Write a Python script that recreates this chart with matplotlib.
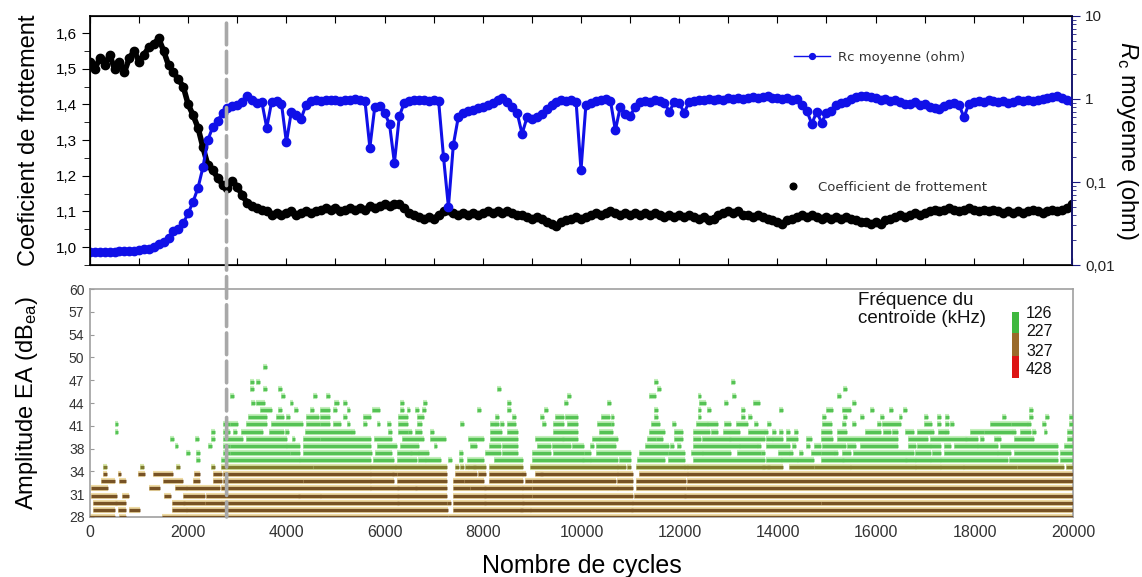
import matplotlib
matplotlib.use("Agg")
import matplotlib.pyplot as plt
import numpy as np

from matplotlib import ticker
from matplotlib.colors import ListedColormap
from matplotlib.patches import ConnectionPatch

plt.rcParams['font.family'] = ['Liberation Sans', 'DejaVu Sans']
plt.rcParams['mathtext.fontset'] = 'custom'
plt.rcParams['mathtext.rm'] = 'Liberation Sans'
plt.rcParams['mathtext.it'] = 'Liberation Sans:italic'

# --- donnees ---
cycles = np.arange(0, 20001, 100)

frottement = [
    1.52, 1.50, 1.53, 1.51, 1.54, 1.50, 1.52, 1.49, 1.53, 1.55,
    1.52, 1.54, 1.56, 1.57, 1.585, 1.55, 1.51, 1.49, 1.47, 1.45,
    1.40, 1.37, 1.335, 1.28, 1.23, 1.215, 1.195, 1.175, 1.165, 1.185,
    1.17, 1.145, 1.125, 1.115, 1.11, 1.105, 1.10, 1.09, 1.095, 1.09,
    1.095, 1.10, 1.09, 1.095, 1.10, 1.095, 1.10, 1.105, 1.11, 1.105,
    1.11, 1.10, 1.105, 1.11, 1.105, 1.11, 1.105, 1.115, 1.11, 1.115,
    1.12, 1.115, 1.12, 1.12, 1.11, 1.095, 1.09, 1.085, 1.08, 1.085,
    1.08, 1.09, 1.10, 1.105, 1.095, 1.09, 1.095, 1.09, 1.095, 1.09,
    1.095, 1.10, 1.095, 1.10, 1.095, 1.10, 1.095, 1.09, 1.09, 1.085,
    1.08, 1.085, 1.08, 1.07, 1.065, 1.06, 1.07, 1.075, 1.08, 1.085,
    1.08, 1.085, 1.09, 1.095, 1.09, 1.095, 1.10, 1.095, 1.09, 1.095,
    1.09, 1.095, 1.09, 1.095, 1.09, 1.095, 1.09, 1.085, 1.09, 1.085,
    1.09, 1.085, 1.09, 1.085, 1.08, 1.085, 1.075, 1.08, 1.09, 1.095,
    1.10, 1.095, 1.10, 1.09, 1.09, 1.085, 1.09, 1.085, 1.08, 1.075,
    1.07, 1.065, 1.075, 1.08, 1.085, 1.09, 1.085, 1.09, 1.085, 1.08,
    1.085, 1.08, 1.085, 1.08, 1.085, 1.08, 1.075, 1.07, 1.07, 1.065,
    1.07, 1.065, 1.075, 1.08, 1.085, 1.09, 1.085, 1.09, 1.095, 1.09,
    1.095, 1.10, 1.105, 1.10, 1.105, 1.11, 1.105, 1.10, 1.105, 1.11,
    1.105, 1.10, 1.105, 1.10, 1.105, 1.10, 1.095, 1.10, 1.095, 1.10,
    1.095, 1.10, 1.105, 1.10, 1.095, 1.10, 1.105, 1.10, 1.105, 1.11,
    1.12,
]

rc_moyenne = [
    0.0142, 0.0143, 0.0144, 0.0144, 0.0145, 0.0145, 0.0146, 0.0147, 0.0148, 0.0149,
    0.0151, 0.0154, 0.0158, 0.0166, 0.0178, 0.019, 0.021, 0.026, 0.027, 0.032,
    0.042, 0.058, 0.085, 0.15, 0.32, 0.46, 0.55, 0.68, 0.78, 0.82,
    0.84, 0.92, 1.08, 0.98, 0.90, 0.92, 0.45, 0.93, 0.95, 0.88,
    0.30, 0.70, 0.64, 0.58, 0.85, 0.95, 0.97, 0.95, 0.98, 0.96,
    0.97, 0.95, 0.98, 0.96, 1.0, 0.97, 0.95, 0.26, 0.80, 0.82,
    0.68, 0.50, 0.17, 0.62, 0.90, 0.95, 0.97, 0.96, 0.98, 0.95,
    0.97, 0.95, 0.20, 0.05, 0.28, 0.60, 0.68, 0.72, 0.74, 0.78,
    0.80, 0.85, 0.90, 0.97, 1.02, 0.92, 0.80, 0.68, 0.38, 0.60,
    0.58, 0.60, 0.66, 0.76, 0.85, 0.93, 0.96, 0.95, 0.97, 0.93,
    0.14, 0.85, 0.90, 0.95, 0.98, 1.0, 0.95, 0.42, 0.80, 0.66,
    0.62, 0.80, 0.92, 0.95, 0.93, 0.96, 0.95, 0.90, 0.70, 0.92,
    0.90, 0.68, 0.92, 0.95, 0.97, 0.98, 1.0, 0.97, 1.0, 0.98,
    1.02, 1.0, 1.03, 0.99, 1.02, 1.05, 1.02, 1.06, 1.10, 1.04,
    1.02, 1.0, 1.02, 0.98, 1.0, 0.85, 0.72, 0.50, 0.70, 0.52,
    0.68, 0.72, 0.85, 0.90, 0.93, 1.0, 1.05, 1.08, 1.10, 1.05,
    1.02, 0.98, 1.0, 0.95, 0.97, 0.92, 0.88, 0.87, 0.92, 0.85,
    0.88, 0.80, 0.78, 0.76, 0.82, 0.88, 0.90, 0.85, 0.60, 0.88,
    0.92, 0.95, 0.93, 0.97, 0.95, 0.92, 0.95, 0.90, 0.93, 0.96,
    0.94, 0.98, 0.95, 0.97, 1.0, 1.02, 1.05, 1.10, 1.02, 0.98,
    0.95,
]

# amplitude EA : niveaux (dB) et plages de cycles occupees a chaque niveau
niveaux_ea = list(range(28, 50))
segments_ea = [
    # 28
    [(30, 470), (640, 700), (1500, 7250), (7330, 20000)],
    # 29
    [(100, 470), (600, 700), (830, 980), (1700, 1930), (2000, 7250), (7430, 8760),
     (8790, 8930), (8990, 11000), (11040, 20000)],
    # 30
    [(100, 500), (550, 700), (1700, 1900), (1930, 2300), (2370, 2640), (2700, 6240),
     (6280, 7230), (7300, 7300), (7430, 8010), (8050, 8790), (8830, 11000),
     (11070, 14840), (14910, 20000)],
    # 31
    [(60, 500), (700, 750), (1550, 1600), (1930, 2300), (2400, 4240), (4270, 4650),
     (4710, 6240), (6280, 7230), (7430, 8010), (8050, 8760), (8830, 8960),
     (9030, 11000), (11110, 12090), (12130, 20000)],
    # 32
    [(60, 330), (1250, 1380), (1760, 1930), (2000, 2600), (2700, 5670), (5740, 6240),
     (6280, 6620), (6650, 7230), (7430, 7700), (7770, 8010), (8050, 8760),
     (8830, 8960), (9030, 10700), (10770, 11000), (11140, 12090), (12160, 20000)],
    # 33
    [(260, 470), (640, 700), (1520, 1860), (2130, 2200), (2550, 2640), (2750, 4300),
     (4380, 5670), (5740, 6140), (6280, 7230), (7430, 7570), (7640, 7980),
     (8150, 8760), (8900, 8960), (9030, 10670), (10770, 11000), (11140, 12090),
     (12190, 20000)],
    # 34
    [(300, 300), (600, 600), (1020, 1080), (1320, 1650), (2150, 2200), (2540, 2640),
     (2750, 5670), (5740, 6140), (6180, 6210), (6280, 7230), (7470, 7840),
     (7940, 8010), (8150, 8760), (8830, 8830), (9100, 9170), (9200, 10700),
     (10770, 11000), (11210, 12130), (12190, 20000)],
    # 35
    [(300, 300), (1050, 1050), (1800, 1800), (2500, 2500), (2700, 4500), (4580, 5670),
     (5740, 6180), (6250, 7230), (7470, 7470), (7570, 7570), (7670, 7670),
     (7740, 7810), (7840, 8010), (8150, 8760), (9000, 10700), (10770, 10870),
     (10970, 10970), (11140, 12060), (12130, 12130), (12190, 13690), (13720, 13790),
     (13820, 14060), (14260, 14700), (14770, 15440), (15500, 16760), (16830, 17270),
     (17340, 17750), (17810, 18830), (18900, 19780), (19890, 20000)],
    # 36
    [(2200, 2200), (2700, 4240), (4300, 5670), (5800, 6140), (6280, 6620), (6720, 6790),
     (6860, 7100), (7330, 7330), (7540, 7540), (7710, 7980), (8250, 8760),
     (9030, 10020), (10050, 10160), (10220, 10700), (10800, 10970), (11170, 11650),
     (11790, 12060), (12300, 13690), (13790, 14030), (14090, 14370), (14430, 14700),
     (14910, 15300), (15340, 16590), (16630, 16760), (16830, 17070), (17140, 17270),
     (17340, 18630), (18730, 19650), (19780, 20000)],
    # 37
    [(2000, 2000), (2200, 2200), (2740, 2810), (2880, 4030), (4100, 4240), (4370, 5700),
     (5840, 6110), (6280, 6520), (6550, 6650), (6720, 6860), (7540, 7540),
     (8080, 8320), (8420, 8660), (9030, 9340), (9470, 10020), (10090, 10160),
     (10330, 10970), (11210, 11720), (11790, 12060), (12260, 12430), (12500, 13010),
     (13210, 13620), (13690, 13690), (14030, 14200), (14260, 14260), (14470, 14470),
     (14700, 14840), (14910, 15110), (15170, 15170), (15340, 15440), (15570, 16730),
     (16830, 17070), (17170, 17270), (17410, 18430), (18490, 18700), (18830, 19650),
     (19780, 20000)],
    # 38
    [(1760, 1760), (2440, 2440), (2740, 2810), (2880, 3960), (4030, 4240), (4370, 5670),
     (5870, 6210), (6350, 6650), (7030, 7030), (7770, 7840), (8150, 8320),
     (8420, 8660), (9130, 9340), (9440, 9740), (9850, 10020), (10220, 10220),
     (10330, 10670), (11340, 11750), (11850, 11850), (11990, 11990), (12300, 13180),
     (13250, 13550), (13620, 13620), (13790, 14200), (14330, 14330), (14600, 14600),
     (14770, 14840), (14940, 15340), (15440, 15540), (15710, 16390), (16690, 16760),
     (16860, 17070), (17140, 17270), (17410, 17480), (17610, 18020), (18090, 18430),
     (18560, 19650), (19850, 20000)],
    # 39
    [(1660, 1660), (2170, 2170), (2500, 2500), (2740, 3080), (3220, 3960), (4140, 4140),
     (4370, 4640), (4710, 5670), (5810, 6110), (6380, 6760), (6960, 7200),
     (7740, 7980), (8180, 8660), (9100, 9610), (9640, 9880), (10260, 10330),
     (10390, 10700), (11380, 11480), (11550, 11620), (11920, 12020), (12300, 12400),
     (12500, 13010), (13040, 13690), (13790, 13860), (13920, 14060), (14200, 14370),
     (14600, 14640), (14910, 15080), (15230, 16390), (16690, 17000), (17140, 17810),
     (17850, 18020), (18150, 18150), (18430, 18430), (18490, 18490), (18830, 19170),
     (19920, 20000)],
    # 40
    [(540, 540), (2500, 2500), (2740, 2810), (2950, 2950), (3120, 3490), (3690, 3900),
     (4000, 4000), (4410, 5300), (5360, 5360), (6110, 6110), (6310, 6420),
     (6520, 6520), (6650, 6720), (6960, 6960), (8180, 8350), (8520, 8660),
     (9470, 9880), (10390, 10600), (11410, 11650), (11920, 12020), (12300, 12570),
     (12670, 12740), (12910, 13180), (13420, 13690), (13750, 13750), (13920, 13920),
     (14060, 14060), (14200, 14200), (14370, 14370), (14910, 15050), (15230, 15370),
     (15810, 16050), (16180, 16250), (16350, 16390), (16630, 16730), (16860, 17070),
     (17140, 17140), (17300, 17370), (17440, 17440), (17950, 18150), (18220, 18730),
     (18800, 18800), (18970, 19100), (19210, 19210), (19440, 19440), (19920, 20000)],
    # 41
    [(540, 540), (2740, 2810), (2880, 2980), (3220, 3560), (3730, 4300), (4440, 4640),
     (4710, 4850), (4990, 5060), (5260, 5260), (5600, 5600), (5870, 5870),
     (6080, 6080), (6310, 6420), (6690, 6720), (7570, 7570), (8180, 8220),
     (8280, 8280), (8390, 8390), (8520, 8620), (9230, 9230), (9470, 9610),
     (9740, 9880), (10360, 10560), (10630, 10630), (11450, 11550), (11890, 11890),
     (12360, 12530), (12600, 12740), (12940, 13010), (13180, 13350), (13550, 13550),
     (13820, 13820), (14940, 15050), (15340, 15340), (15540, 15540), (16050, 16050),
     (16150, 16460), (17000, 17100), (17270, 17270), (17440, 17440), (17540, 17540),
     (18360, 18700), (18770, 19040), (19100, 19100), (19410, 19410), (19950, 20000)],
    # 42
    [(3250, 3560), (3830, 3900), (4030, 4030), (4440, 4610), (4710, 4850), (5190, 5190),
     (5600, 5670), (6310, 6420), (6690, 6760), (8280, 8280), (8620, 8620),
     (9200, 9200), (9510, 9610), (9710, 9880), (10430, 10530), (10630, 10630),
     (11510, 11510), (12400, 12400), (13280, 13280), (13420, 13420), (14940, 14940),
     (15370, 15370), (15710, 15710), (16120, 16120), (16490, 16490), (17000, 17000),
     (17270, 17270), (17440, 17440), (18600, 18600), (19140, 19140), (19480, 19480),
     (19950, 19950)],
    # 43
    [(3490, 3660), (3860, 3860), (4200, 4200), (4510, 4510), (4710, 4850), (4980, 4980),
     (5260, 5260), (5770, 5870), (6350, 6350), (6480, 6480), (6650, 6650),
     (6790, 6790), (7910, 7910), (8520, 8520), (9270, 9270), (11510, 11510),
     (12400, 12400), (12600, 12600), (13280, 13280), (14060, 14060), (15010, 15080),
     (15340, 15440), (15910, 15910), (16290, 16290), (16590, 16590), (19140, 19140)],
    # 44
    [(3320, 3320), (3420, 3520), (4100, 4100), (5000, 5020), (5190, 5190), (6350, 6350),
     (6820, 6820), (8520, 8520), (9680, 9680), (10560, 10560), (12430, 12500),
     (12940, 12940), (13520, 13590), (15540, 15540)],
    # 45
    [(2880, 2880), (3930, 3930), (4580, 4580), (4850, 4850), (9740, 9740),
     (11410, 11480), (12400, 12400), (13110, 13110), (15230, 15230)],
    # 46
    [(3290, 3290), (3560, 3560), (3860, 3860), (8320, 8320), (11580, 11580), (15370, 15370)],
    # 47
    [(3290, 3290), (3420, 3420), (11510, 11510), (13080, 13080)],
    # 48
    [],
    # 49
    [(3560, 3560)],
]

ea_ticks = [28, 31.2, 34.4, 37.6, 40.8, 44, 47.2, 50.4, 53.6, 56.8, 60]
ea_labels = ['28', '31', '34', '38', '41', '44', '47', '50', '54', '57', '60']

frottement_ticks = [1.0, 1.1, 1.2, 1.3, 1.4, 1.5, 1.6]
frottement_labels = ['1,0', '1,1', '1,2', '1,3', '1,4', '1,5', '1,6']
rc_ticks = [0.01, 0.1, 1, 10]
rc_labels = ['0,01', '0,1', '1', '10']

freq_labels = ['126', '227', '327', '428']
freq_couleurs = ['#3fb83f', '#9a6a2a', '#dd1414']

x_transition = 2780


def main():
    fig = plt.figure(figsize=(11.42, 5.77), dpi=100)
    ax1 = fig.add_axes([0.0788, 0.5407, 0.8599, 0.4316])
    ax2 = fig.add_axes([0.0788, 0.1040, 0.8608, 0.3951])

    # ---------- panneau du haut ----------
    # bande epaisse pour rendre la densite des points de mesure
    ax1.plot(cycles, frottement, '-', color='black', lw=4, zorder=3)
    pts_cof, = ax1.plot(cycles, frottement, 'o', ls='none', color='black', ms=6, zorder=3)
    ax1.set_xlim(0, 20000)
    ax1.set_ylim(0.95, 1.648)
    ax1.set_yticks(frottement_ticks)
    ax1.set_yticklabels(frottement_labels)
    ax1.yaxis.set_minor_locator(ticker.MultipleLocator(0.05))
    ax1.xaxis.set_major_locator(ticker.MultipleLocator(1000))
    ax1.tick_params(axis='x', which='both', direction='in', top=True, bottom=True,
                    length=5, labelbottom=False)
    ax1.tick_params(axis='y', which='major', direction='out', length=6, labelsize=11)
    ax1.tick_params(axis='y', which='minor', direction='out', length=4)
    for s in ax1.spines.values():
        s.set_linewidth(1.2)
    ax1.set_ylabel('Coeficient de frottement', fontsize=17)
    ax1.yaxis.set_label_coords(-0.051, 0.5)

    ax_r = ax1.twinx()
    ax_r.plot(cycles, rc_moyenne, '-', color='#1010e8', lw=2.2, zorder=2)
    ligne_rc, = ax_r.plot(cycles, rc_moyenne, '-o', color='#1010e8', lw=1, ms=6,
                          mec='#1010e8', zorder=2)
    ax_r.set_yscale('log')
    ax_r.set_ylim(0.01, 10)
    ax_r.set_yticks(rc_ticks)
    ax_r.set_yticklabels(rc_labels)
    ax_r.yaxis.set_minor_locator(ticker.LogLocator(base=10, subs=np.arange(2, 10)))
    ax_r.yaxis.set_minor_formatter(ticker.NullFormatter())
    ax_r.tick_params(axis='y', which='major', direction='out', length=6, color='#1a1a80',
                     labelsize=11, labelcolor='#222222')
    ax_r.tick_params(axis='y', which='minor', direction='out', length=3, color='#1a1a80')
    ax_r.spines['right'].set_color('#1a1a80')
    ax_r.spines['right'].set_linewidth(1.2)
    ax_r.set_ylabel(r'$\mathit{R}_{\mathrm{c}}$ moyenne (ohm)', fontsize=17, rotation=270)
    ax_r.yaxis.set_label_coords(1.069, 0.5)

    leg1 = ax_r.legend([ligne_rc], ['Rc moyenne (ohm)'], loc='center left',
                       bbox_to_anchor=(0.717, 0.835), frameon=False, numpoints=1,
                       handlelength=2.7, handletextpad=0.6, borderpad=0, borderaxespad=0,
                       markerscale=0.7, prop={'family': 'DejaVu Sans', 'size': 9.5})
    for t in leg1.get_texts():
        t.set_color('#333333')
    ax_r.add_artist(leg1)
    leg2 = ax_r.legend([pts_cof], ['Coefficient de frottement'], loc='center left',
                       bbox_to_anchor=(0.709, 0.313), frameon=False, numpoints=1,
                       handlelength=1.0, handletextpad=1.4, borderpad=0, borderaxespad=0,
                       markerscale=0.8, prop={'family': 'DejaVu Sans', 'size': 9.5})
    for t in leg2.get_texts():
        t.set_color('#333333')

    # ---------- panneau du bas ----------
    for niveau, segs in zip(niveaux_ea, segments_ea):
        if not segs:
            continue
        debut = [a - 40 for a, b in segs]
        fin = [b + 40 for a, b in segs]
        if niveau <= 34:
            halo, coeur = '#eedba4', '#775225'
        elif niveau == 35:
            halo, coeur = '#d9e6a8', '#7f7a2e'
        else:
            halo, coeur = '#c2efba', '#55c255'
        ax2.hlines([niveau] * len(segs), debut, fin, colors=halo, lw=4.4, zorder=2)
        ax2.hlines([niveau] * len(segs), debut, fin, colors=coeur, lw=2.4, zorder=3)

    ax2.set_xlim(0, 20000)
    ax2.set_ylim(28, 60)
    ax2.set_yticks(ea_ticks)
    ax2.set_yticklabels(ea_labels)
    ax2.xaxis.set_major_locator(ticker.MultipleLocator(2000))
    ax2.tick_params(axis='x', length=0, labelsize=11.5, labelcolor='#333333', pad=6)
    ax2.tick_params(axis='y', direction='in', length=3, color='#999999', labelsize=10,
                    labelcolor='#333333', pad=4)
    for s in ax2.spines.values():
        s.set_color('#a0a0a0')
        s.set_linewidth(1.2)
    ax2.set_ylabel(r'Amplitude EA (dB$_{\mathrm{ea}}$)', fontsize=17)
    ax2.yaxis.set_label_coords(-0.051, 0.5)
    ax2.set_xlabel('Nombre de cycles', fontsize=18)
    ax2.xaxis.set_label_coords(0.5, -0.163)

    # legende des frequences du centroide
    ax_cb = fig.add_axes([0.8862, 0.3449, 0.0061, 0.1144])
    ax_cb.imshow(np.arange(len(freq_couleurs)).reshape(-1, 1),
                 cmap=ListedColormap(freq_couleurs), aspect='auto')
    ax_cb.axis('off')
    fig.text(0.7513, 1 - 292 / 577, 'Fréquence du\ncentroïde (kHz)', fontsize=13.5,
             va='top', ha='left', linespacing=1.05, color='#111111')
    for lab, ypx in zip(freq_labels, [313, 332, 351, 369]):
        fig.text(0.8984, 1 - ypx / 577, lab, fontsize=11.5, va='center', ha='left',
                 color='#111111')

    # ligne verticale de transition
    con = ConnectionPatch(xyA=(x_transition, 1.628), coordsA=ax1.transData,
                          xyB=(x_transition, 28), coordsB=ax2.transData,
                          color='#a8a8a8', lw=2.6, linestyle=(0, (6, 1.8)), zorder=10)
    fig.add_artist(con)

    fig.savefig('out.png', dpi=100)


if __name__ == "__main__":
    main()
